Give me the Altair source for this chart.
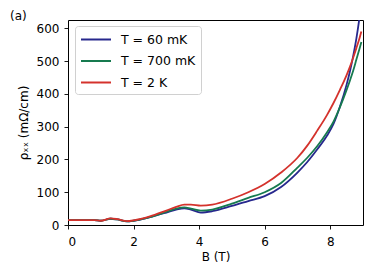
import altair as alt
import pandas as pd

# Field values (T)
B = [0.0, 0.4, 0.8, 1.0, 1.3, 1.5, 1.8, 2.0, 2.5, 3.0, 3.3, 3.55, 3.75, 4.05, 4.4,
     5.0, 5.5, 6.0, 6.5, 7.0, 7.3, 7.6, 7.9, 8.1, 8.3, 8.5, 8.6, 8.7, 8.8, 8.9, 8.95]

# rho_xx (mOhm/cm) per temperature
rho_60mK = [15, 15, 15, 13, 19, 17, 11, 13, 24, 38, 47, 51, 47, 38, 42,
            58, 73, 88, 116, 160, 192, 230, 272, 308, 362, 428, 468, 515, 570, 638, 680]
rho_700mK = [15, 15, 15, 13, 19, 17, 11, 13, 24, 40, 50, 54, 50, 44, 47,
             65, 83, 100, 128, 175, 205, 240, 282, 315, 360, 412, 440, 470, 505, 540, 558]
rho_2K = [15, 15, 15, 13, 20, 18, 12, 14, 26, 44, 55, 62, 62, 59, 62,
          80, 100, 125, 160, 205, 242, 287, 335, 372, 413, 457, 482, 510, 540, 572, 590]

labels = ["T = 60 mK", "T = 700 mK", "T = 2 K"]
colors = ["#27288d", "#167a4f", "#d4322c"]
series = [rho_60mK, rho_700mK, rho_2K]

rows = []
for i, (lab, vals) in enumerate(zip(labels, series)):
    for b, v in zip(B, vals):
        rows.append({"B": b, "rho": v, "T": lab, "k": i})
df = pd.DataFrame(rows)

font = "DejaVu Sans"

chart = alt.Chart(df).mark_line(strokeWidth=1.8, clip=True, interpolate="monotone").encode(
    x=alt.X("B:Q", scale=alt.Scale(domain=[0, 9], nice=False, zero=False),
            axis=alt.Axis(values=[0, 2, 4, 6, 8], title="B (T)", format="d")),
    y=alt.Y("rho:Q", scale=alt.Scale(domain=[0, 625], nice=False),
            axis=alt.Axis(values=[0, 100, 200, 300, 400, 500, 600], title="ρₓₓ (mΩ/cm)")),
    color=alt.Color("T:N", sort=labels,
                    scale=alt.Scale(domain=labels, range=colors),
                    legend=alt.Legend(title=None, orient="none", legendX=7, legendY=6,
                                      symbolType="M-1,0H3", symbolSize=225,
                                      symbolStrokeWidth=2, labelOffset=24,
                                      labelFontSize=12.5, labelFont=font, labelColor="black",
                                      rowPadding=6.5, padding=5,
                                      fillColor="white", strokeColor="#d0d0d0",
                                      cornerRadius=3)),
    order=alt.Order("k:Q"),
).properties(
    width=295, height=205,
    title=alt.TitleParams("(a)", anchor="start", frame="group", dx=-58, dy=3, offset=0,
                          fontSize=12, font=font, fontWeight="normal", color="black"),
    autosize=alt.AutoSizeParams(type="none"),
    padding={"left": 60, "top": 12, "right": 3, "bottom": 40},
).configure_view(
    stroke="black", strokeWidth=1
).configure_axis(
    domain=False, grid=False, ticks=True, tickColor="black", tickSize=4, tickWidth=0.9,
    labelFont=font, labelFontSize=12, labelColor="black", labelPadding=5,
    titleFont=font, titleFontSize=12, titleFontWeight="normal", titleColor="black",
).configure_axisX(
    titlePadding=4, labelPadding=7
).configure_axisY(
    titlePadding=6
)

chart.save("out.html", embed_options={"renderer": "svg", "actions": False})
